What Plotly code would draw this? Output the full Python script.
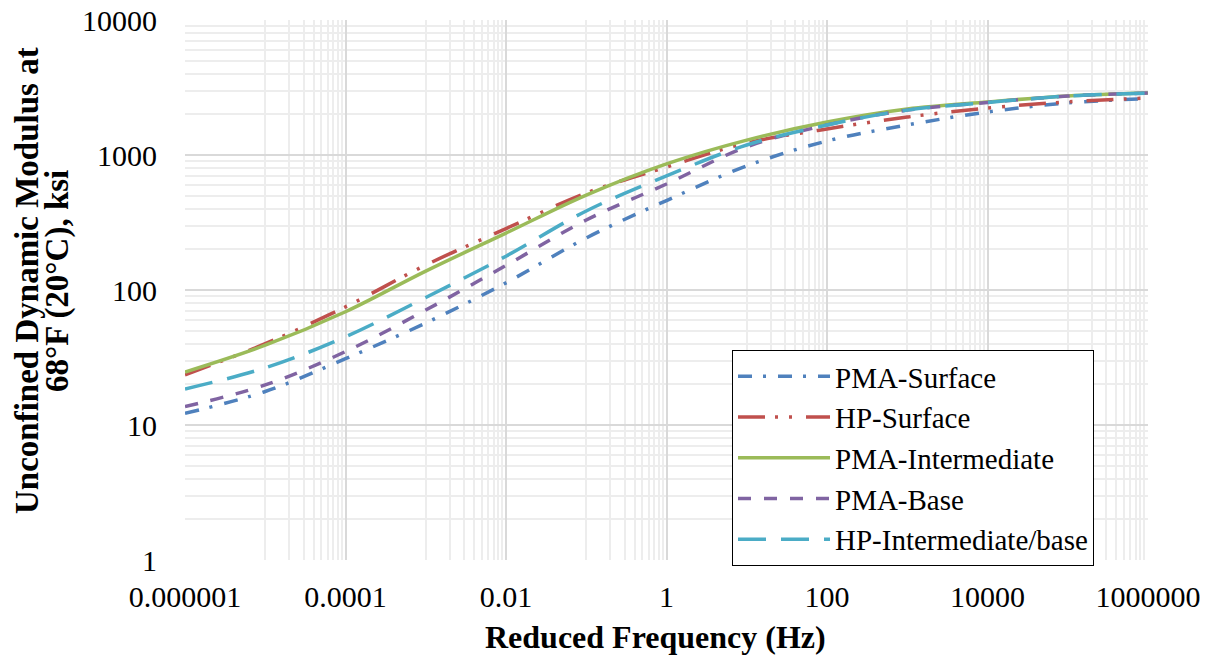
import plotly.graph_objects as go

# Reduced frequency (Hz) at each decade
freq = [1e-6, 1e-5, 1e-4, 1e-3, 1e-2, 1e-1, 1, 10, 100, 1e3, 1e4, 1e5, 1e6]

# Dynamic modulus (ksi)
pma_surface = [12.2, 17.7, 31, 57, 113, 243, 460, 830, 1270, 1668, 2083, 2430, 2620]
hp_surface = [23.5, 40, 75, 153, 285, 523, 815, 1227, 1560, 1910, 2227, 2473, 2643]
pma_intermediate = [24.7, 39, 69, 138, 264, 505, 860, 1290, 1756, 2193, 2473, 2735, 2877]
pma_base = [13.7, 19.8, 35, 71, 152, 330, 610, 1150, 1668, 2150, 2450, 2735, 2877]
hp_intbase = [18.5, 26.5, 45, 88, 178, 385, 700, 1186, 1668, 2150, 2450, 2735, 2877]

series_names = ["PMA-Surface", "HP-Surface", "PMA-Intermediate", "PMA-Base", "HP-Intermediate/base"]
series_values = [pma_surface, hp_surface, pma_intermediate, pma_base, hp_intbase]
colors = ["#4F81BD", "#C0504D", "#9BBB59", "#8064A2", "#4BACC6"]
dashes = ["14px,11px,3px,12px", "27px,10px,3px,11px,3px,14px", "solid", "13px,13px", "28px,15px"]

x_tickvals = [1e-6, 1e-4, 1e-2, 1, 100, 1e4, 1e6]
x_ticktext = ["0.000001", "0.0001", "0.01", "1", "100", "10000", "1000000"]
y_tickvals = [1, 10, 100, 1000, 10000]
y_ticktext = ["1", "10", "100", "1000", "10000"]

x_minor = [m * 10.0 ** k for k in range(-5, 6, 2) for m in range(1, 10)]
y_minor = [m * 10.0 ** k for k in range(0, 4) for m in range(2, 10)]

FONT = "Liberation Serif, Times New Roman, serif"

# The page body has an 8px margin, so the figure is laid out 8px smaller / shifted.
OFF = 8
W, H = 1212 - OFF, 657 - OFF
L, T = 185 - OFF, 20 - OFF
R = W - (1148 - OFF)
B = H - (560 - OFF)
PW, PH = W - L - R, H - T - B


def px(xp):
    return (xp - OFF - L) / PW


def py(yp):
    return (H - B - (yp - OFF)) / PH


fig = go.Figure()
for name, vals, c, d in zip(series_names, series_values, colors, dashes):
    fig.add_trace(go.Scatter(
        x=freq, y=vals, name=name, mode="lines",
        line=dict(color=c, width=3.5, dash=d, shape="spline", smoothing=1.0),
    ))

fig.update_layout(
    width=W, height=H,
    margin=dict(l=L, r=R, t=T, b=B, autoexpand=False),
    paper_bgcolor="white", plot_bgcolor="white",
    font=dict(family=FONT, size=30, color="black"),
    showlegend=True,
    legend=dict(
        x=px(732), y=py(350), xanchor="left", yanchor="top",
        bgcolor="white", bordercolor="black", borderwidth=1,
        font=dict(family=FONT, size=29, color="black"),
        itemwidth=92, tracegroupgap=0,
    ),
)

fig.update_xaxes(
    type="log", range=[-6, 6], automargin=False,
    tickmode="array", tickvals=x_tickvals, ticktext=x_ticktext,
    showgrid=True, gridcolor="#D9D9D9", gridwidth=1.5,
    ticks="", ticklabelstandoff=16, ticklabeloverflow="allow",
    zeroline=False, showline=False,
    minor=dict(tickmode="array", tickvals=x_minor, showgrid=True, gridcolor="#EDEDED", gridwidth=1.5),
    tickfont=dict(family=FONT, size=30, color="black"),
)
fig.update_yaxes(
    type="log", range=[0, 4], automargin=False,
    tickmode="array", tickvals=y_tickvals, ticktext=y_ticktext,
    showgrid=True, gridcolor="#D9D9D9", gridwidth=1.5,
    ticks="", ticklabelstandoff=27, ticklabeloverflow="allow",
    zeroline=False, showline=False,
    minor=dict(tickmode="array", tickvals=y_minor, showgrid=True, gridcolor="#EDEDED", gridwidth=1.5),
    tickfont=dict(family=FONT, size=30, color="black"),
)

fig.add_annotation(
    text="<b>Reduced Frequency (Hz)</b>", xref="paper", yref="paper",
    x=px(655), y=py(637), xanchor="center", yanchor="middle", showarrow=False,
    font=dict(family=FONT, size=32, color="black"),
)
fig.add_annotation(
    text="<b>Unconfined Dynamic Modulus at</b>", xref="paper", yref="paper",
    x=px(27), y=py(281), xanchor="center", yanchor="middle",
    textangle=-90, showarrow=False,
    font=dict(family=FONT, size=33, color="black"),
)
fig.add_annotation(
    text="<b>68°F (20°C), ksi</b>", xref="paper", yref="paper",
    x=px(57), y=py(281), xanchor="center", yanchor="middle",
    textangle=-90, showarrow=False,
    font=dict(family=FONT, size=33, color="black"),
)

fig.write_html("out.html")
